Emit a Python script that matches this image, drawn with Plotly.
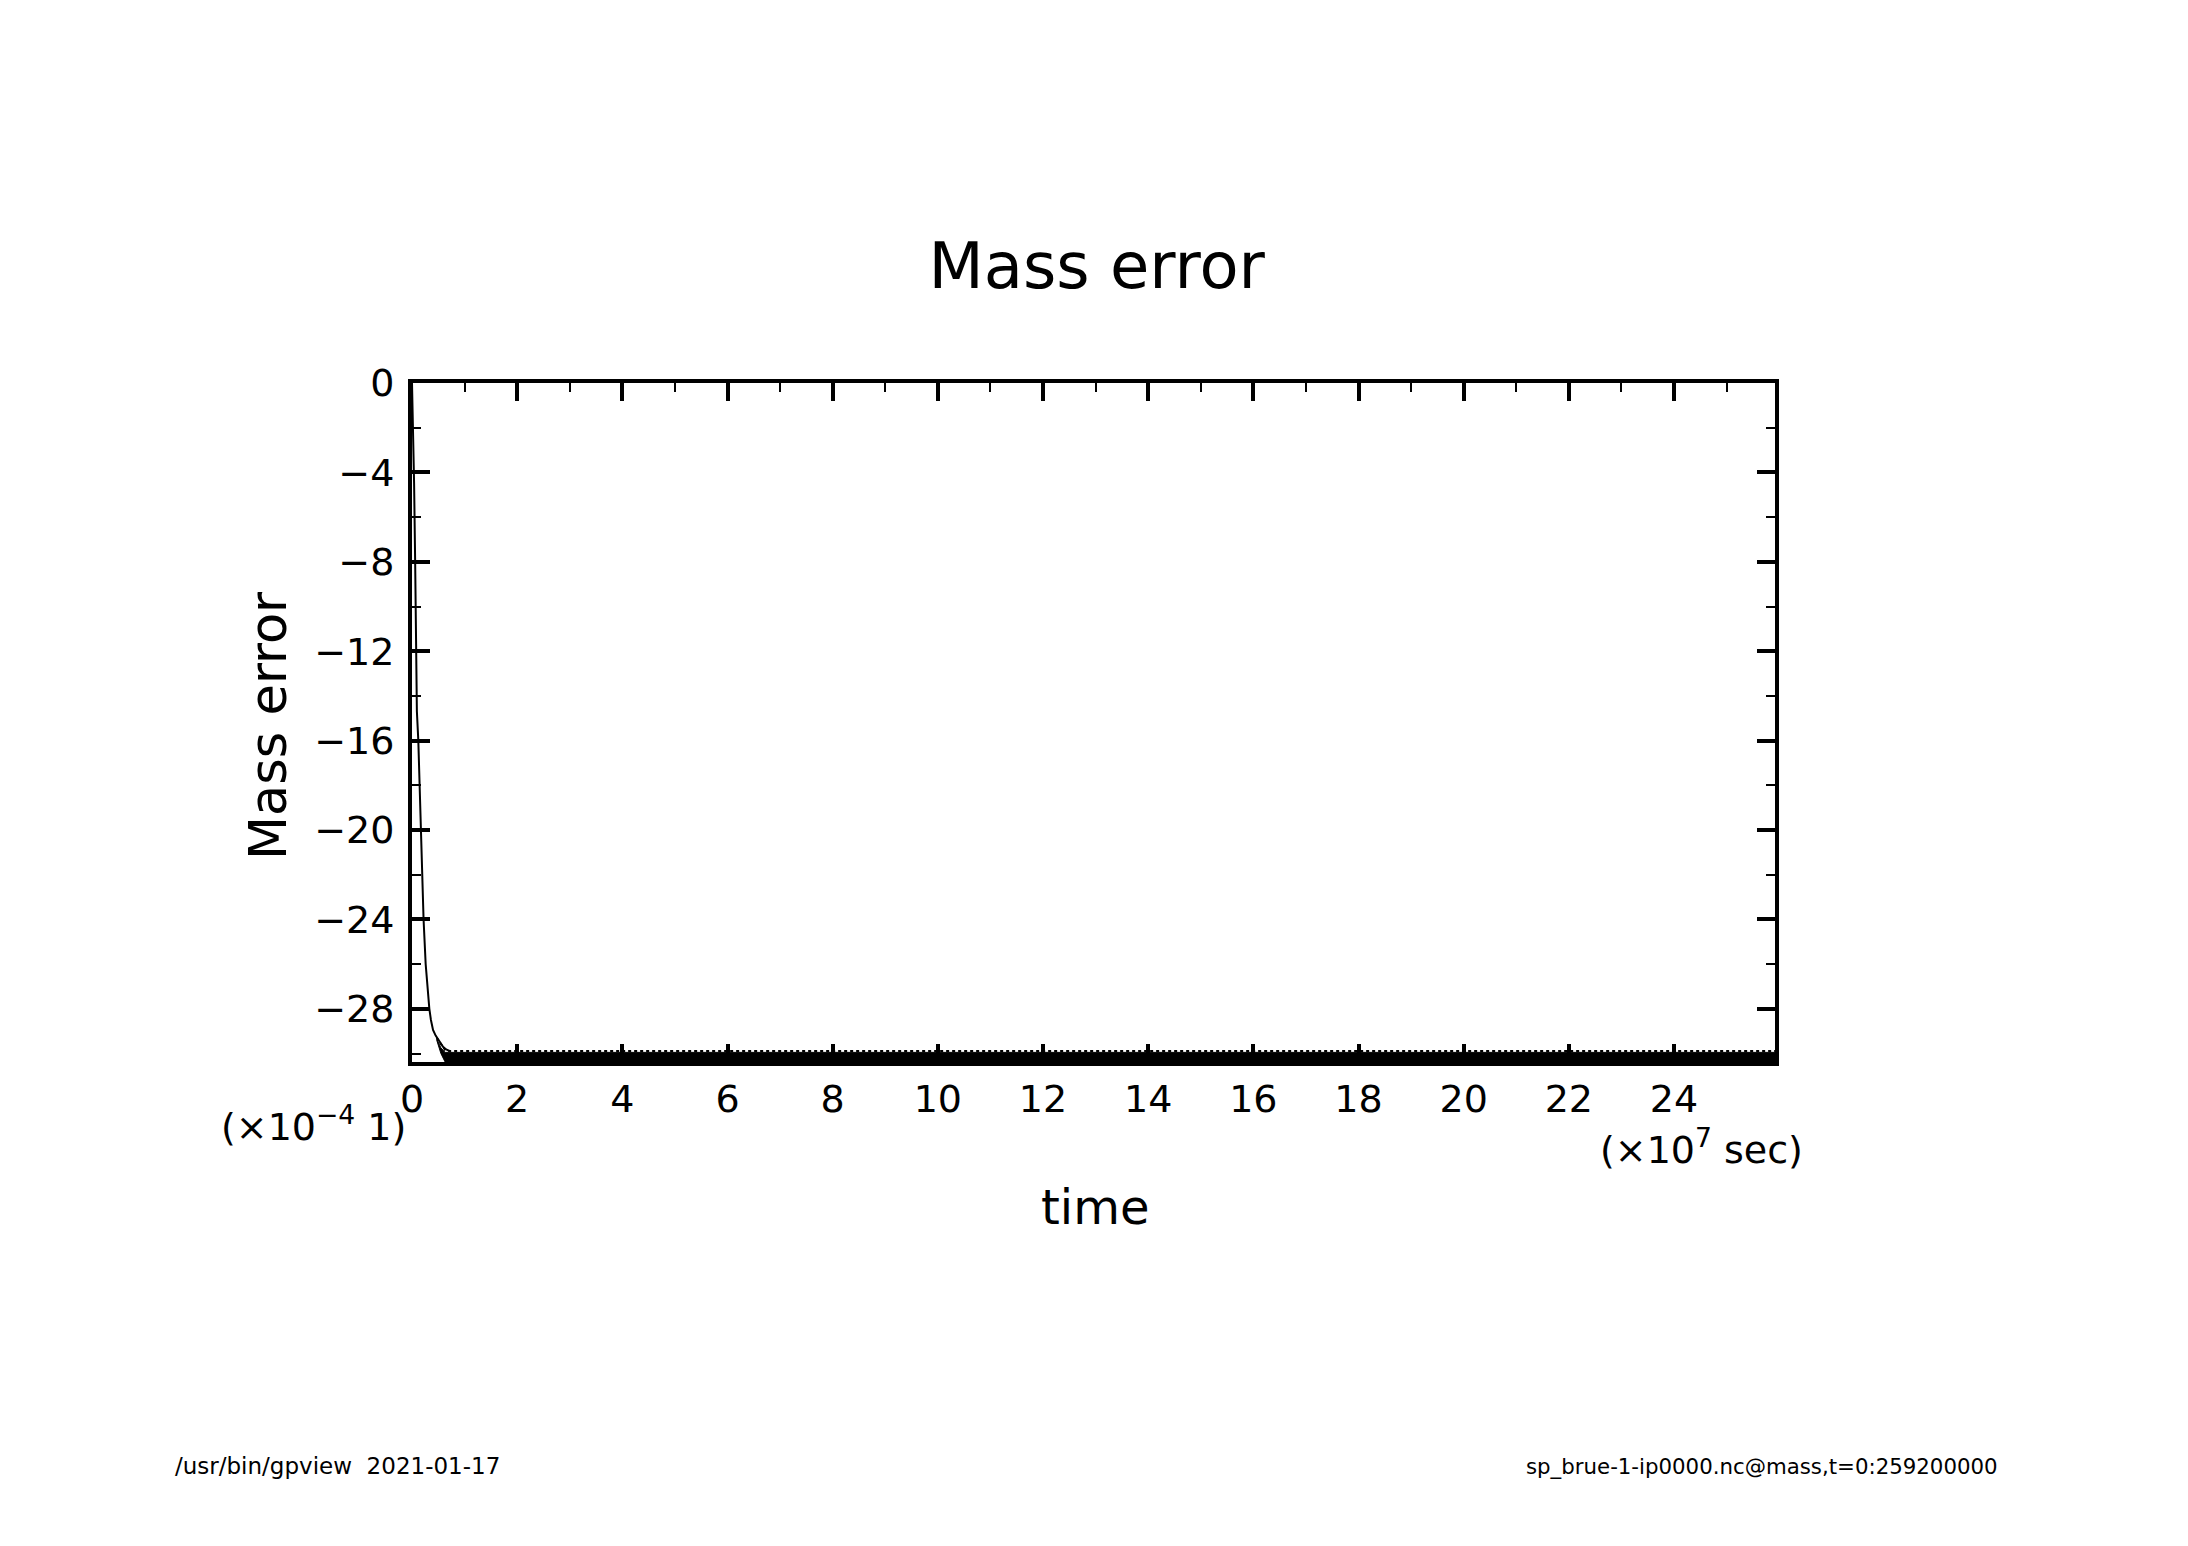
import plotly.graph_objects as go

# time in units of 1e7 sec, mass error in units of 1e-4
t_curve = [0.0, 0.02, 0.04, 0.06, 0.08, 0.093, 0.12, 0.145, 0.17, 0.195, 0.22, 0.26, 0.30, 0.33, 0.36, 0.40, 0.45, 0.50, 0.55, 0.59, 0.65, 0.72]
v_curve = [0.0, -2.0, -4.5, -8.0, -12.0, -14.7, -16.0, -18.2, -20.0, -22.2, -24.0, -26.0, -27.4, -28.0, -28.5, -28.95, -29.2, -29.4, -29.6, -29.7, -29.82, -29.89]

# envelope of the rapidly oscillating tail
t_band = [0.47, 0.55, 0.63, 0.72, 25.92]
band_upper = [-29.3, -29.6, -29.85, -29.89, -29.89]
band_inner = [-29.35, -29.75, -29.95, -29.95, -29.95]
band_lower = [-29.4, -30.0, -30.38, -30.38, -30.38]

x_range = [0, 25.92]
y_range = [-30.38, 0]

FONT = "DejaVu Sans"

# page body has an 8px offset; frame target in page px
OFF = 8
L, R, T, B = 412, 1775, 383, 1062

fig = go.Figure()
fig.add_trace(go.Scatter(x=t_band, y=band_lower, mode="lines",
                         line=dict(color="black", width=1), hoverinfo="skip"))
fig.add_trace(go.Scatter(x=t_band, y=band_inner, mode="lines", fill="tonexty",
                         fillcolor="black", line=dict(color="black", width=1), hoverinfo="skip"))
fig.add_trace(go.Scatter(x=t_band, y=band_upper, mode="lines",
                         line=dict(color="black", width=2, dash="dot"), hoverinfo="skip"))
fig.add_trace(go.Scatter(x=t_curve, y=v_curve, mode="lines",
                         line=dict(color="black", width=2)))

axis_common = dict(
    showgrid=False, zeroline=False, showline=True, linecolor="black", linewidth=4,
    mirror="allticks", ticks="inside", ticklen=18, tickwidth=4, tickcolor="black",
    tickfont=dict(family=FONT, size=38, color="black"),
)

fig.update_layout(
    width=2188, height=1546,
    margin=dict(l=L - OFF, r=2188 - R + OFF, t=T - OFF, b=1546 - B + OFF),
    paper_bgcolor="white", plot_bgcolor="white",
    showlegend=False,
    title=dict(text="Mass error", x=(1096.7 - OFF) / 2188, xanchor="center",
               y=1 - (265.7 - OFF) / 1546, yanchor="middle",
               font=dict(family=FONT, size=64, color="black")),
    xaxis=dict(range=x_range, tick0=0, dtick=2,
               minor=dict(dtick=1, ticks="inside", ticklen=9, tickwidth=2, tickcolor="black"),
               ticklabelstandoff=0, **axis_common),
    yaxis=dict(range=y_range, tick0=0, dtick=4,
               minor=dict(dtick=2, ticks="inside", ticklen=9, tickwidth=2, tickcolor="black"),
               ticklabelstandoff=6, **axis_common),
)

def px_x(p):
    return (p - L) / (R - L)

def px_y(p):
    return (B - p) / (B - T)

ann = [
    dict(text="time", x=px_x(1095), y=px_y(1207), xanchor="center", yanchor="middle",
         font=dict(family=FONT, size=48, color="black")),
    dict(text="Mass error", x=px_x(268), y=px_y(726), xanchor="center", yanchor="middle",
         textangle=-90, font=dict(family=FONT, size=51, color="black")),
    dict(text="(×10<sup>7</sup> sec)", x=px_x(1805), y=px_y(1147), xanchor="right", yanchor="middle",
         font=dict(family=FONT, size=38, color="black")),
    dict(text="(×10<sup>−4</sup> 1)", x=px_x(219), y=px_y(1124), xanchor="left", yanchor="middle",
         font=dict(family=FONT, size=38, color="black")),
    dict(text="/usr/bin/gpview  2021-01-17", x=px_x(173), y=px_y(1466), xanchor="left", yanchor="middle",
         font=dict(family=FONT, size=23, color="black")),
    dict(text="sp_brue-1-ip0000.nc@mass,t=0:259200000", x=px_x(2000), y=px_y(1466), xanchor="right",
         yanchor="middle", font=dict(family=FONT, size=21.3, color="black")),
]
for a in ann:
    a.update(xref="paper", yref="paper", showarrow=False)
fig.update_layout(annotations=ann)

fig.write_html("out.html")
